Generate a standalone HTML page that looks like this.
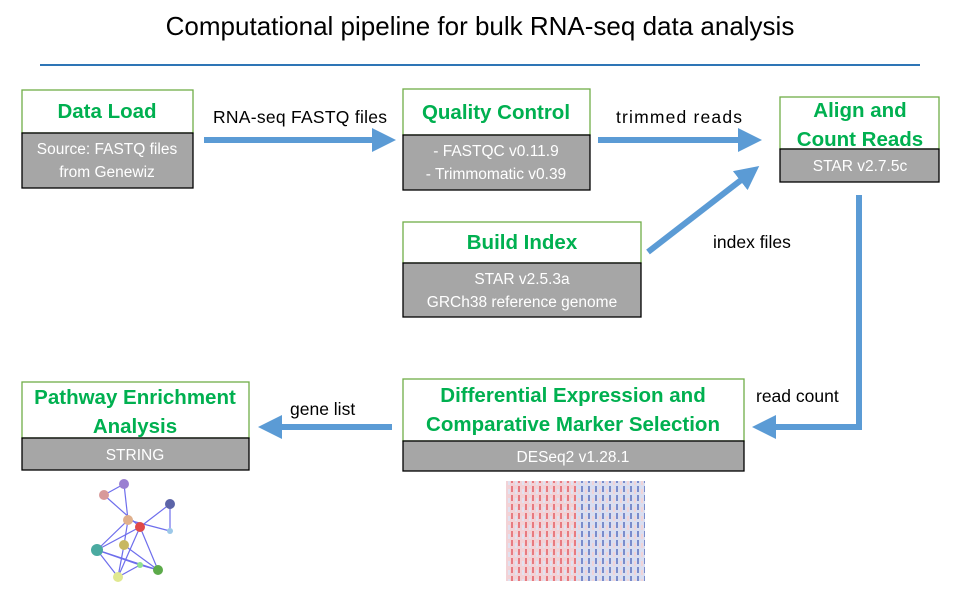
<!DOCTYPE html>
<html><head><meta charset="utf-8"><style>
body{margin:0;background:#fff;}
svg text{font-family:"Liberation Sans",sans-serif;}
.h{fill:#00b050;font-weight:bold;font-size:20.5px;text-anchor:middle;}
.g{fill:#fff;font-size:15.5px;text-anchor:middle;}
.l{fill:#000;font-size:17.5px;}
</style></head><body>
<svg width="960" height="584" viewBox="0 0 960 584" xmlns="http://www.w3.org/2000/svg">
<text x="480" y="35" text-anchor="middle" font-size="26" fill="#000">Computational pipeline for bulk RNA-seq data analysis</text>
<line x1="40" y1="65" x2="920" y2="65" stroke="#2e75b6" stroke-width="2"/>
<defs><marker id="a" markerWidth="4" markerHeight="4" refX="1" refY="2" orient="auto" markerUnits="strokeWidth"><path d="M0,0 L4,2 L0,4 Z" fill="#5b9bd5"/></marker></defs>
<g stroke="#5b9bd5" stroke-width="6" fill="none">
<line x1="204" y1="140" x2="378" y2="140" marker-end="url(#a)"/>
<line x1="598" y1="140" x2="744" y2="140" marker-end="url(#a)"/>
<line x1="648" y1="252" x2="745" y2="177" marker-end="url(#a)"/>
<polyline points="859,195 859,427 780,427" />
<line x1="790" y1="427" x2="770" y2="427" marker-end="url(#a)"/>
<line x1="392" y1="427" x2="276" y2="427" marker-end="url(#a)"/>
</g>
<text class="l" x="213" y="123" textLength="174">RNA-seq  FASTQ files</text>
<text class="l" x="616" y="123" textLength="126">trimmed reads</text>
<text class="l" x="713" y="248">index files</text>
<text class="l" x="756" y="402">read count</text>
<text class="l" x="290" y="415">gene list</text>
<g stroke-width="1.3">
<rect x="22" y="90" width="171" height="43" fill="#fff" stroke="#70ad47"/>
<rect x="22" y="133" width="171" height="55" fill="#a6a6a6" stroke="#000"/>
<rect x="403" y="89" width="187" height="46" fill="#fff" stroke="#70ad47"/>
<rect x="403" y="135" width="187" height="55" fill="#a6a6a6" stroke="#000"/>
<rect x="780" y="97" width="159" height="52" fill="#fff" stroke="#70ad47"/>
<rect x="780" y="149" width="159" height="33" fill="#a6a6a6" stroke="#000"/>
<rect x="403" y="222" width="238" height="41" fill="#fff" stroke="#70ad47"/>
<rect x="403" y="263" width="238" height="54" fill="#a6a6a6" stroke="#000"/>
<rect x="403" y="379" width="341" height="62" fill="#fff" stroke="#70ad47"/>
<rect x="403" y="441" width="341" height="30" fill="#a6a6a6" stroke="#000"/>
<rect x="22" y="382" width="227" height="56" fill="#fff" stroke="#70ad47"/>
<rect x="22" y="438" width="227" height="32" fill="#a6a6a6" stroke="#000"/>
</g>
<text class="h" x="107" y="118">Data Load</text>
<text class="g" x="107" y="154">Source: FASTQ files</text>
<text class="g" x="107" y="177">from Genewiz</text>
<text class="h" x="496" y="119">Quality Control</text>
<text class="g" x="496" y="156">- FASTQC v0.11.9</text>
<text class="g" x="496" y="179">- Trimmomatic v0.39</text>
<text class="h" x="860" y="117">Align and</text>
<text class="h" x="860" y="146">Count Reads</text>
<text class="g" x="860" y="171">STAR v2.7.5c</text>
<text class="h" x="522" y="249">Build Index</text>
<text class="g" x="522" y="284">STAR v2.5.3a</text>
<text class="g" x="522" y="307">GRCh38 reference genome</text>
<text class="h" x="573" y="402">Differential Expression and</text>
<text class="h" x="573" y="431">Comparative Marker Selection</text>
<text class="g" x="573" y="462">DESeq2 v1.28.1</text>
<text class="h" x="135" y="404">Pathway Enrichment</text>
<text class="h" x="135" y="433">Analysis</text>
<text class="g" x="135" y="460">STRING</text>
<g stroke="#4a4ae8" stroke-width="1.2" opacity="0.8">
<line x1="104" y1="495" x2="124" y2="484"/><line x1="124" y1="484" x2="128" y2="520"/><line x1="104" y1="495" x2="140" y2="527"/>
<line x1="140" y1="527" x2="170" y2="504"/><line x1="170" y1="504" x2="170" y2="531"/><line x1="128" y1="520" x2="97" y2="550"/>
<line x1="140" y1="527" x2="97" y2="550"/><line x1="128" y1="520" x2="124" y2="545"/><line x1="124" y1="545" x2="118" y2="577"/>
<line x1="140" y1="527" x2="158" y2="570"/><line x1="97" y1="550" x2="158" y2="570"/><line x1="118" y1="577" x2="140" y2="527"/>
<line x1="124" y1="545" x2="158" y2="570"/><line x1="97" y1="550" x2="140" y2="565"/><line x1="128" y1="520" x2="170" y2="531"/>
<line x1="140" y1="565" x2="158" y2="570"/><line x1="118" y1="577" x2="140" y2="565"/><line x1="97" y1="550" x2="118" y2="577"/>
</g>
<circle cx="124" cy="484" r="5" fill="#9a7fd1"/><circle cx="104" cy="495" r="5" fill="#d89a9a"/>
<circle cx="170" cy="504" r="5" fill="#5c64a8"/><circle cx="128" cy="520" r="5" fill="#e0b08c"/>
<circle cx="140" cy="527" r="5" fill="#e04848"/><circle cx="170" cy="531" r="3" fill="#9cc8e8"/>
<circle cx="124" cy="545" r="5" fill="#c8b860"/><circle cx="97" cy="550" r="6" fill="#4aaaa0"/>
<circle cx="140" cy="565" r="3" fill="#90e090"/><circle cx="158" cy="570" r="5" fill="#5caa4a"/>
<circle cx="118" cy="577" r="5" fill="#e0e890"/>
<defs>
<pattern id="hr" width="7" height="9" patternUnits="userSpaceOnUse"><rect width="7" height="9" fill="#f2d2d6"/><rect width="2" height="6" fill="#e87a80"/><rect x="4" y="3" width="2" height="5" fill="#e0e2f0"/></pattern>
<pattern id="hb" width="7" height="9" patternUnits="userSpaceOnUse"><rect width="7" height="9" fill="#dadef0"/><rect width="2" height="6" fill="#7a8ccc"/><rect x="4" y="3" width="2" height="5" fill="#f0d4d8"/></pattern>
</defs>
<rect x="506" y="481" width="70" height="100" fill="url(#hr)"/>
<rect x="576" y="481" width="69" height="100" fill="url(#hb)"/>
</svg>
</body></html>
